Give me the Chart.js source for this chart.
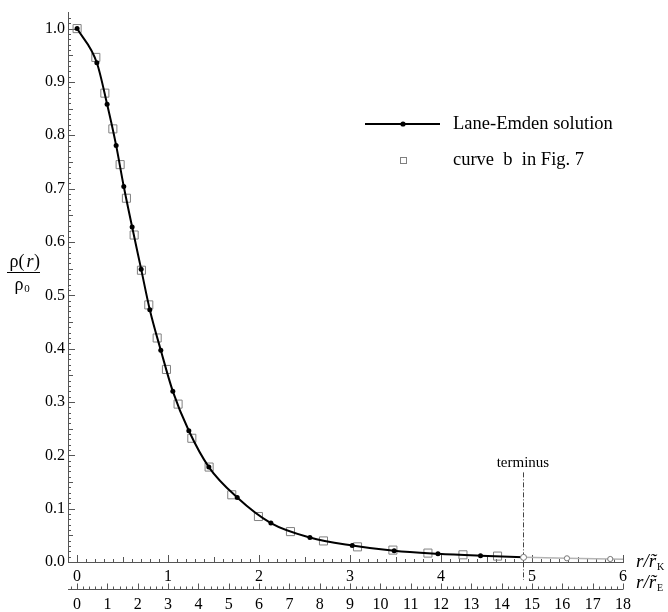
<!DOCTYPE html>
<html>
<head>
<meta charset="utf-8">
<script src="https://cdn.jsdelivr.net/npm/chart.js@4/dist/chart.umd.min.js"></script>
<style>
  body { margin: 0; background: #fff; }
  #chart { display: block; }
</style>
</head>
<body>
<canvas id="chart" width="668" height="612"></canvas>
<script>
// Lane-Emden solution (filled dots)
const emdenX = [0, 0.217, 0.330, 0.429, 0.513, 0.605, 0.704, 0.799, 0.920, 1.052, 1.228, 1.448, 1.76, 2.130, 2.559, 3.024, 3.485, 3.966, 4.434, 4.907];
const emdenY = [1.0, 0.936, 0.858, 0.781, 0.704, 0.628, 0.549, 0.473, 0.397, 0.320, 0.246, 0.178, 0.121, 0.073, 0.046, 0.031, 0.021, 0.0154, 0.0117, 0.0087];

// continuation past the terminus (grey, open circles)
const tailX = [4.907, 5.384, 5.86, 6.0];
const tailY = [0.0087, 0.0069, 0.0056, 0.0052];

// curve b in Fig. 7 (open squares)
const curveBX = [0, 0.206, 0.305, 0.393, 0.473, 0.542, 0.627, 0.707, 0.788, 0.880, 0.982, 1.110, 1.261, 1.451, 1.70, 1.993, 2.345, 2.708, 3.082, 3.471, 3.856, 4.241, 4.621];
const curveBY = [1.0, 0.946, 0.879, 0.812, 0.745, 0.682, 0.613, 0.547, 0.482, 0.420, 0.361, 0.296, 0.232, 0.178, 0.126, 0.0853, 0.057, 0.0395, 0.0284, 0.0223, 0.0167, 0.0135, 0.0111];

const terminusX = 4.9;

// tick labels
const yTicks = [0, 0.1, 0.2, 0.3, 0.4, 0.5, 0.6, 0.7, 0.8, 0.9, 1.0];
const kTicks = [0, 1, 2, 3, 4, 5, 6];
const eTicks = [0, 1, 2, 3, 4, 5, 6, 7, 8, 9, 10, 11, 12, 13, 14, 15, 16, 17, 18];

const serif = '"Liberation Serif", "DejaVu Serif", serif';
const axisColor = '#555';

const toPoints = (xs, ys) => xs.map((x, i) => ({ x: x, y: ys[i] }));

function seg(ctx, x1, y1, x2, y2) {
    ctx.beginPath();
    ctx.moveTo(x1, y1);
    ctx.lineTo(x2, y2);
    ctx.stroke();
}

// inward tick marks, ruler, terminus marker, legend and axis titles
const overlay = {
    id: 'overlay',
    beforeDatasetsDraw(chart) {
        const { ctx, scales: { x, x2, y } } = chart;
        const left = chart.chartArea.left;
        const bottom = chart.chartArea.bottom;
        ctx.save();
        ctx.strokeStyle = axisColor;
        ctx.lineWidth = 1;

        // y axis: every 0.01, medium 0.05, long 0.1
        for (let i = 0; i <= 102; i++) {
            const py = Math.round(y.getPixelForValue(i / 100)) + 0.5;
            const len = i % 10 === 0 ? 7 : (i % 5 === 0 ? 5 : 3);
            seg(ctx, left, py, left + len, py);
        }
        // r/r_K axis: every 0.1
        for (let i = -1; i <= 60; i++) {
            const px = Math.round(x.getPixelForValue(i / 10)) + 0.5;
            const len = i % 10 === 0 ? 7 : (i % 5 === 0 ? 5 : 3);
            seg(ctx, px, bottom, px, bottom - len);
        }
        // r/r_E ruler
        const ry = Math.round(x2.top + 7) + 0.5;
        seg(ctx, x2.left, ry, x2.right, ry);
        for (let i = -1; i <= 90; i++) {
            const px = Math.round(x2.getPixelForValue(i / 5)) + 0.5;
            const len = i % 5 === 0 ? 6 : 3;
            seg(ctx, px, ry, px, ry - len);
        }

        // terminus
        const tx = Math.round(x.getPixelForValue(terminusX)) + 0.5;
        ctx.strokeStyle = '#444';
        ctx.setLineDash([5, 2, 1, 2]);
        seg(ctx, tx, y.getPixelForValue(0.168), tx, x2.top - 2);
        ctx.setLineDash([]);
        ctx.restore();
    },
    afterDraw(chart) {
        const { ctx, scales: { x, x2, y } } = chart;
        ctx.save();
        ctx.fillStyle = '#000';
        ctx.textBaseline = 'middle';

        const tx = x.getPixelForValue(terminusX);
        ctx.font = '15px ' + serif;
        ctx.textAlign = 'center';
        ctx.fillText('terminus', tx, y.getPixelForValue(0.185));

        // legend
        ctx.textAlign = 'left';
        ctx.font = '18.5px ' + serif;
        ctx.strokeStyle = '#000';
        ctx.lineWidth = 2;
        seg(ctx, 365, 124, 440, 124);
        ctx.beginPath();
        ctx.arc(403, 124, 2.6, 0, Math.PI * 2);
        ctx.fill();
        ctx.fillText('Lane-Emden solution', 453, 124);
        ctx.lineWidth = 1;
        ctx.strokeStyle = '#808080';
        ctx.strokeRect(400.5, 157.5, 6, 6);
        ctx.fillText('curve  b  in Fig. 7', 453, 160);

        // y title as a fraction
        ctx.textAlign = 'center';
        ctx.font = '18px ' + serif;
        ctx.fillText('\u03c1(', 17, 262);
        ctx.font = 'italic 18px ' + serif;
        ctx.fillText('r', 30, 262);
        ctx.font = '18px ' + serif;
        ctx.fillText(')', 37, 262);
        ctx.strokeStyle = '#000';
        ctx.lineWidth = 1;
        seg(ctx, 7, 272.5, 40, 272.5);
        ctx.fillText('\u03c1', 19, 285);
        ctx.font = '11px ' + serif;
        ctx.fillText('0', 27, 289);

        // x titles
        ctx.textAlign = 'left';
        const titles = [['K', x.top], ['E', x2.top + 1]];
        titles.forEach(([sub, ty]) => {
            ctx.font = 'italic 19px ' + serif;
            const s = 'r/r\u0303';
            ctx.fillText(s, 636, ty);
            const w = ctx.measureText(s).width;
            ctx.font = '10px ' + serif;
            ctx.fillText(sub, 636 + w + 1, ty + 5);
        });
        ctx.restore();
    }
};

const tickFont = { family: serif, size: 16 };

new Chart(document.getElementById('chart'), {
    type: 'scatter',
    data: {
        datasets: [
            {
                label: 'beyond terminus',
                data: toPoints(tailX, tailY),
                showLine: true,
                borderColor: '#b4b4b4',
                borderWidth: 1.5,
                pointRadius: [3, 2.6, 2.6, 0],
                pointBackgroundColor: '#fff',
                pointBorderColor: '#777',
                pointBorderWidth: 1
            },
            {
                label: 'Lane-Emden solution',
                data: toPoints(emdenX, emdenY),
                showLine: true,
                cubicInterpolationMode: 'monotone',
                borderColor: '#000',
                borderWidth: 2,
                pointRadius: emdenX.map((v, i) => i === emdenX.length - 1 ? 0 : 2.5),
                pointBackgroundColor: '#000',
                pointBorderColor: '#000',
                pointBorderWidth: 0
            },
            {
                label: 'curve b in Fig. 7',
                data: toPoints(curveBX, curveBY),
                showLine: false,
                pointStyle: 'rect',
                pointRadius: 5.7,
                pointBackgroundColor: 'rgba(0,0,0,0)',
                pointBorderColor: '#808080',
                pointBorderWidth: 1
            }
        ]
    },
    options: {
        responsive: false,
        animation: false,
        layout: { padding: { top: 6, right: 45, left: 0, bottom: 0 } },
        plugins: {
            legend: { display: false },
            tooltip: { enabled: false }
        },
        scales: {
            x: {
                type: 'linear',
                position: 'bottom',
                weight: 0,
                min: -0.1,
                max: 6,
                grid: { display: false, drawTicks: false },
                border: { display: true, color: axisColor },
                ticks: { font: tickFont, color: '#000', padding: 5, maxRotation: 0, autoSkip: false },
                afterBuildTicks: s => { s.ticks = kTicks.map(v => ({ value: v })); },
                afterFit: s => { s.height = 20; }
            },
            x2: {
                type: 'linear',
                position: 'bottom',
                weight: 1,
                min: -0.3,
                max: 18,
                grid: { display: false, drawTicks: false },
                border: { display: false },
                ticks: { font: tickFont, color: '#000', padding: 13, maxRotation: 0, autoSkip: false },
                afterBuildTicks: s => { s.ticks = eTicks.map(v => ({ value: v })); },
                afterFit: s => { s.height = 30; }
            },
            y: {
                type: 'linear',
                min: 0,
                max: 1.03,
                grid: { display: false, drawTicks: false },
                border: { display: true, color: axisColor },
                ticks: { font: tickFont, color: '#000', padding: 3, callback: v => v.toFixed(1) },
                afterBuildTicks: s => { s.ticks = yTicks.map(v => ({ value: v })); },
                afterFit: s => { s.width = 68; }
            }
        }
    },
    plugins: [overlay]
});
</script>
</body>
</html>
